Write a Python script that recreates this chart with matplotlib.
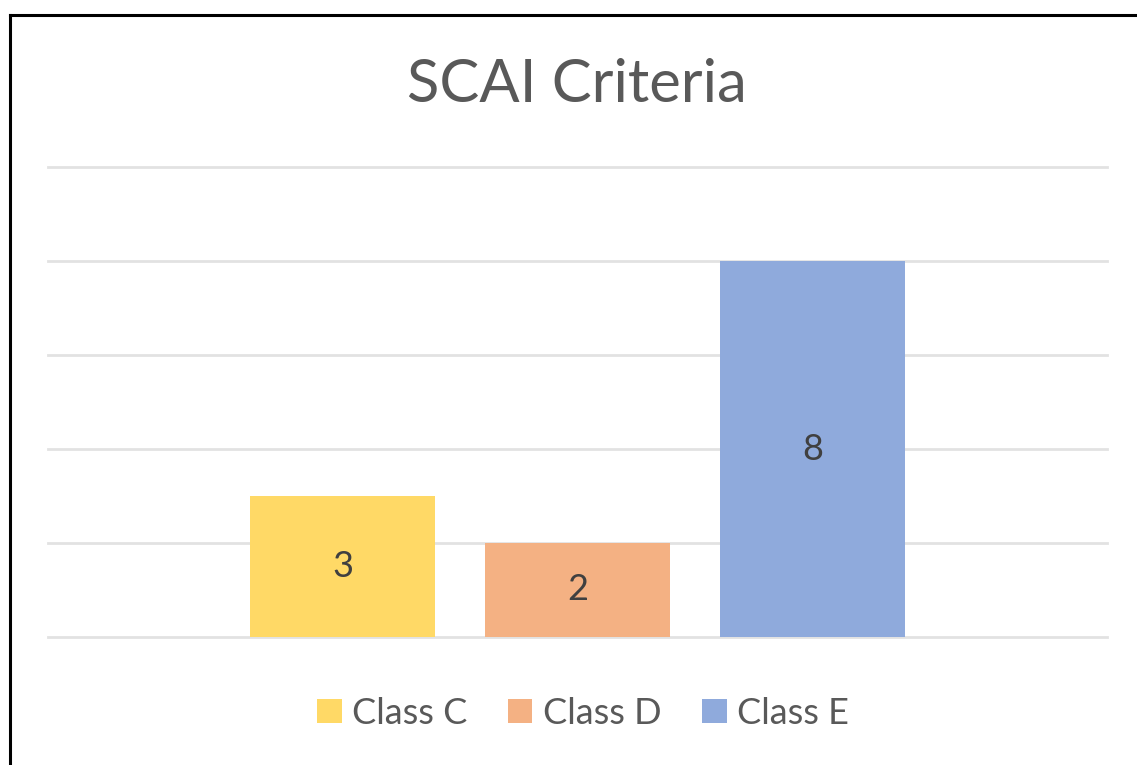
import matplotlib
matplotlib.use("Agg")
import matplotlib.pyplot as plt
from matplotlib.lines import Line2D
from matplotlib.patches import Patch

plt.rcParams['font.family'] = ['Lato', 'DejaVu Sans']

title = "SCAI Criteria"
series = ["Class C", "Class D", "Class E"]
values = [3, 2, 8]
colors = ["#FFD966", "#F4B183", "#8FAADC"]
yticks = [0, 2, 4, 6, 8, 10]

W, H = 1137, 765
fig = plt.figure(figsize=(W / 100, H / 100), dpi=100)
fig.patch.set_facecolor("white")

ax = fig.add_axes([48 / W, 1 - 637 / H, (1107 - 48) / W, (637 - 167) / H])
x = list(range(len(values)))
bars = ax.bar(x, values, width=0.787, color=colors, zorder=3)
for b, v in zip(bars, values):
    ax.text(b.get_x() + b.get_width() / 2, v / 2, str(v), ha="center", va="center",
            fontsize=26, color="#404040", zorder=4)

ax.set_xlim(-1.253, 3.253)
ax.set_ylim(0, 10)
ax.set_yticks(yticks)
ax.set_xticks([])
ax.tick_params(axis="y", length=0, labelleft=False)
ax.yaxis.grid(True, color="#E2E2E2", linewidth=2.0, zorder=0)
for s in ax.spines.values():
    s.set_visible(False)
ax.set_facecolor("none")
for gl in ax.get_ygridlines():
    gl.set_clip_on(False)

fig.text(577 / W, 1 - 85 / H, title, ha="center", va="center", fontsize=43, color="#595959")

handles = [Patch(facecolor=c, edgecolor="none") for c in colors]
fig.legend(handles, series, loc="center", bbox_to_anchor=(583 / W, 1 - 713 / H), ncol=3,
           frameon=False, fontsize=26, labelcolor="#595959", handlelength=0.69,
           handleheight=0.64, handletextpad=0.3, columnspacing=1.1)

# frame border (left & top visible)
fig.add_artist(Line2D([9.5 / W, 9.5 / W], [1 - 14.5 / H, -0.1], color="black", linewidth=2.2,
                      transform=fig.transFigure))
fig.add_artist(Line2D([9.5 / W, 1.1], [1 - 14.5 / H, 1 - 14.5 / H], color="black", linewidth=2.2,
                      transform=fig.transFigure))

fig.savefig("out.png", dpi=100, facecolor="white")
